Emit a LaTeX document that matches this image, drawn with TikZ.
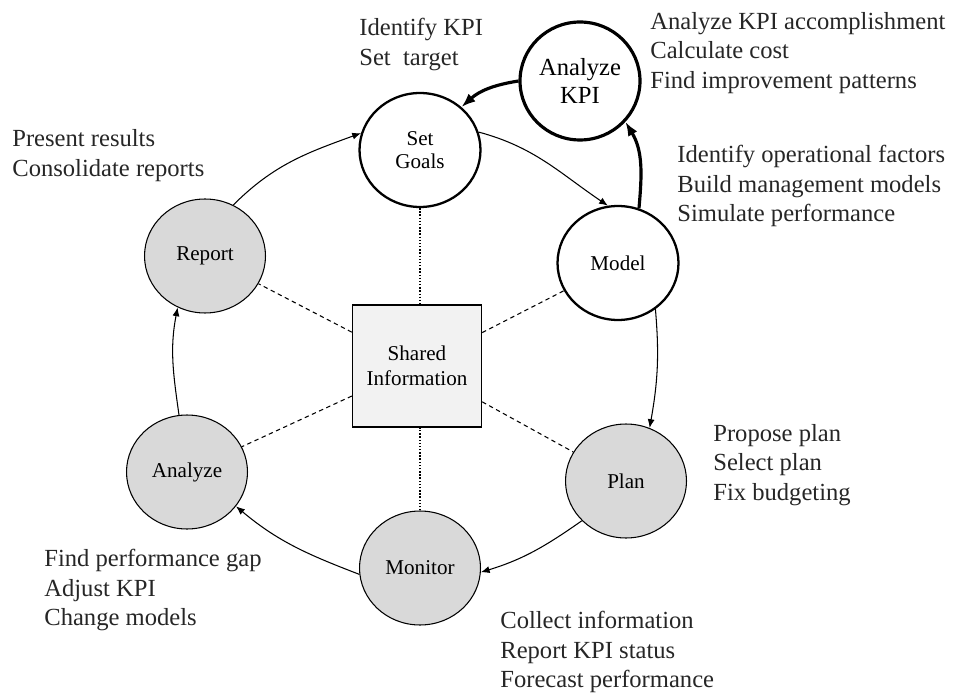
\documentclass[tikz,border=0pt]{standalone}
\usepackage{fontspec}
\setmainfont{Liberation Serif}
\usetikzlibrary{arrows.meta,shapes.geometric}
\tikzset{
  stage/.style={ellipse,draw,line width=0.6pt,fill=black!15,minimum width=2.42cm,
    minimum height=2.28cm,inner sep=0pt,align=center,font=\fontsize{12}{13}\selectfont},
  keystage/.style={stage,fill=white,line width=1.3pt},
  kpistage/.style={stage,fill=white,line width=1.8pt,minimum width=2.4cm,
    minimum height=2.36cm,font=\fontsize{14}{16}\selectfont},
  infobox/.style={draw,line width=0.8pt,fill=black!5,minimum width=2.58cm,
    minimum height=2.44cm,align=center,font=\fontsize{12}{14}\selectfont},
  tasks/.style={anchor=west,align=left,inner sep=0pt,text=black!85,
    font=\fontsize{14}{16.8}\selectfont},
  flow/.style={-{Latex[length=5pt,width=4pt]},line width=0.6pt},
  feedback/.style={-{Latex[length=8pt,width=6pt]},line width=1.8pt},
  share/.style={dash pattern=on 2.5pt off 2pt,line width=0.6pt},
  shareup/.style={densely dotted,line width=0.8pt}
}
\begin{document}
\begin{tikzpicture}[x=0.02cm,y=0.02cm]
\useasboundingbox (0,0) rectangle (955,-695);
% stages of the cycle
\node[keystage] (setgoals) at (420,-150) {Set\\Goals};
\node[kpistage] (analyzekpi) at (580,-81) {Analyze\\KPI};
\node[keystage] (model) at (618,-263) {Model};
\node[stage] (plan) at (626,-481) {Plan};
\node[stage] (monitor) at (420,-568) {Monitor};
\node[stage] (analyze) at (187,-472) {Analyze};
\node[stage] (report) at (205,-256) {Report};
\node[infobox] (shared) at (417,-366) {Shared\\Information};
% what each stage does
\node[tasks] (goalstasks) at (359,-44.5) {Identify KPI\\Set\ \ target};
\node[tasks] (kpitasks) at (650,-53) {Analyze KPI accomplishment\\Calculate cost\\Find improvement patterns};
\node[tasks] (modeltasks) at (677,-186) {Identify operational factors\\Build management models\\Simulate performance};
\node[tasks] (plantasks) at (713,-465) {Propose plan\\Select plan\\Fix budgeting};
\node[tasks] (monitortasks) at (500,-652) {Collect information\\Report KPI status\\Forecast performance};
\node[tasks] (analyzetasks) at (44,-590) {Find performance gap\\Adjust KPI\\Change models};
\node[tasks] (reporttasks) at (12,-155.5) {Present results\\Consolidate reports};
% links to the shared information
\draw[shareup] (setgoals.south) -- (setgoals.south |- shared.north);
\draw[shareup] (monitor.north) -- (monitor.north |- shared.south);
\foreach \s in {report,model,plan,analyze}
  \draw[share] (shared) -- (\s);
% the cycle
\draw[flow] (report.61) to[out=45,in=200] (setgoals.164);
\draw[flow] (setgoals.17) to[out=-15,in=146] (model.100);
\draw[flow] (model.-51) to[out=-85,in=80] (plan.66);
\draw[flow] (plan.222) to[out=215,in=17] (monitor.-4);
\draw[flow] (monitor.186) to[out=159,in=-40] (analyze.-35);
\draw[flow] (analyze.98) to[out=98,in=259] (report.242);
% KPI loop
\draw[feedback] (model.69) to[out=85,in=-59] (analyzekpi.-42);
\draw[feedback] (analyzekpi.180) to[out=189,in=42] (setgoals.46);
\end{tikzpicture}
\end{document}
